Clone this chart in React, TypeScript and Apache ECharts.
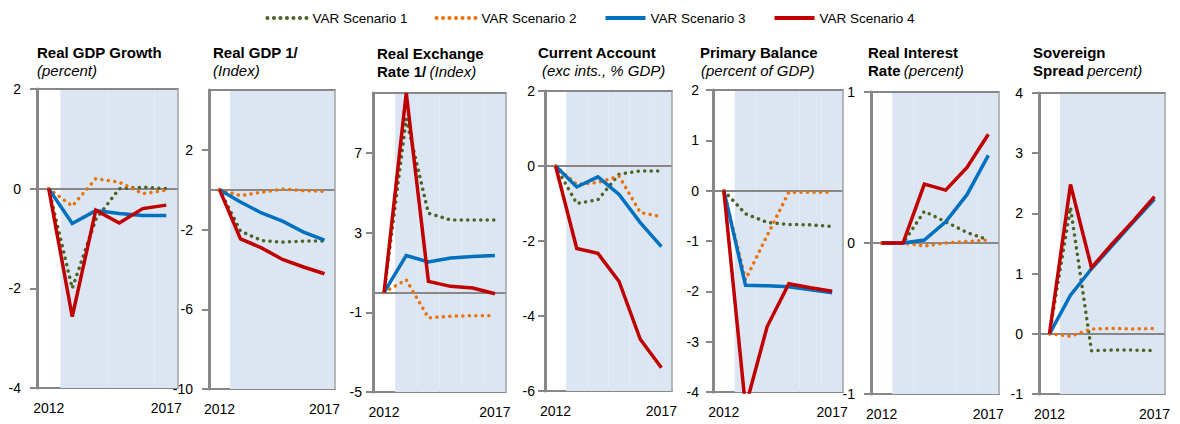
import React, { useEffect, useRef } from "react";
import * as echarts from "echarts";

// ---------- data ----------
const years = ["2012", "2013", "2014", "2015", "2016", "2017"];
const scenarioNames = ["VAR Scenario 1", "VAR Scenario 2", "VAR Scenario 3", "VAR Scenario 4"];

const gdpGrowthS1 = [0, -2.0, -0.62, 0.0, 0.03, 0.0];
const gdpGrowthS2 = [0, -0.35, 0.2, 0.13, -0.1, -0.03];
const gdpGrowthS3 = [0, -0.7, -0.44, -0.5, -0.54, -0.54];
const gdpGrowthS4 = [0, -2.57, -0.43, -0.69, -0.4, -0.33];

const realGdpS1 = [0, -2.08, -2.55, -2.63, -2.58, -2.58];
const realGdpS2 = [0, -0.3, -0.13, 0.03, -0.05, -0.08];
const realGdpS3 = [0, -0.62, -1.17, -1.58, -2.13, -2.53];
const realGdpS4 = [0, -2.47, -2.92, -3.5, -3.88, -4.22];

const rerS1 = [0, 8.7, 3.97, 3.63, 3.63, 3.63];
const rerS2 = [0, 0.63, -1.28, -1.2, -1.17, -1.17];
const rerS3 = [0, 1.85, 1.52, 1.72, 1.8, 1.85];
const rerS4 = [0, 10.0, 0.55, 0.3, 0.22, -0.07];

const currentAccountS1 = [0, -1.0, -0.9, -0.22, -0.13, -0.13];
const currentAccountS2 = [0, -0.49, -0.44, -0.27, -1.24, -1.35];
const currentAccountS3 = [0, -0.56, -0.29, -0.76, -1.51, -2.15];
const currentAccountS4 = [0, -2.2, -2.33, -3.08, -4.62, -5.38];

const primaryBalanceS1 = [0, -0.46, -0.63, -0.67, -0.68, -0.71];
const primaryBalanceS2 = [0, -1.77, -0.89, -0.03, -0.03, -0.03];
const primaryBalanceS3 = [0, -1.88, -1.89, -1.91, -1.97, -2.03];
const primaryBalanceS4 = [0, -4.3, -2.7, -1.85, -1.93, -2.0];

const realInterestS1 = [0, 0, 0.21, 0.14, 0.07, 0.02];
const realInterestS2 = [0, 0, -0.02, 0.0, 0.01, 0.02];
const realInterestS3 = [0, 0, 0.02, 0.14, 0.32, 0.58];
const realInterestS4 = [0, 0, 0.39, 0.35, 0.5, 0.72];

const spreadS1 = [0, 2.1, -0.28, -0.27, -0.27, -0.28];
const spreadS2 = [0, -0.04, 0.08, 0.09, 0.08, 0.09];
const spreadS3 = [0, 0.64, 1.08, 1.47, 1.86, 2.24];
const spreadS4 = [0, 2.48, 1.1, 1.5, 1.88, 2.28];

// y-axis tick values per panel
const gdpGrowthTicks = [-4, -2, 0, 2];
const realGdpTicks = [-10, -6, -2, 2];
const rerTicks = [-5, -1, 3, 7];
const currentAccountTicks = [-6, -4, -2, 0, 2];
const primaryBalanceTicks = [-4, -3, -2, -1, 0, 1, 2];
const realInterestTicks = [-1, 0, 1];
const spreadTicks = [-1, 0, 1, 2, 3, 4];

// ---------- styles / layout ----------
const FONT = '"Liberation Sans", Arial, sans-serif';
const AXIS_GREY = "#878787";
const SHADE = "#dce6f2";
const COLORS = ["#4f6228", "#e8720c", "#0070c0", "#c00000"];

type Panel = {
  data: number[][];
  ticks: number[];
  min: number;
  max: number;
  left: number;
  top: number;
  width: number;
  height: number;
  labelMargin: number;
  title: string;
  subtitle: string;
  titleX: number;
  subX: number;
  titleY: number;
  subY: number;
};

const panels: Panel[] = [
  {
    data: [gdpGrowthS1, gdpGrowthS2, gdpGrowthS3, gdpGrowthS4],
    ticks: gdpGrowthTicks, min: -4, max: 2,
    left: 37, top: 89, width: 141, height: 299, labelMargin: 16,
    title: "{b|Real GDP Growth}", subtitle: "{i|(percent)}",
    titleX: 37, subX: 37, titleY: 52, subY: 70,
  },
  {
    data: [realGdpS1, realGdpS2, realGdpS3, realGdpS4],
    ticks: realGdpTicks, min: -10, max: 5,
    left: 209, top: 90, width: 126, height: 299, labelMargin: 16,
    title: "{b|Real GDP 1/}", subtitle: "{i|(Index)}",
    titleX: 213, subX: 213, titleY: 52, subY: 70,
  },
  {
    data: [rerS1, rerS2, rerS3, rerS4],
    ticks: rerTicks, min: -5, max: 10,
    left: 373, top: 93, width: 133, height: 299, labelMargin: 11,
    title: "{b|Real Exchange}", subtitle: "{b|Rate 1/} {i|(Index)}",
    titleX: 377, subX: 377, titleY: 53, subY: 71,
  },
  {
    data: [currentAccountS1, currentAccountS2, currentAccountS3, currentAccountS4],
    ticks: currentAccountTicks, min: -6, max: 2,
    left: 545, top: 91, width: 127, height: 300, labelMargin: 10,
    title: "{b|Current Account}", subtitle: "{i|(exc ints., % GDP)}",
    titleX: 538, subX: 542, titleY: 52, subY: 70,
  },
  {
    data: [primaryBalanceS1, primaryBalanceS2, primaryBalanceS3, primaryBalanceS4],
    ticks: primaryBalanceTicks, min: -4, max: 2,
    left: 713, top: 90, width: 130, height: 302, labelMargin: 14,
    title: "{b|Primary Balance}", subtitle: "{i|(percent of GDP)}",
    titleX: 700, subX: 701, titleY: 52, subY: 70,
  },
  {
    data: [realInterestS1, realInterestS2, realInterestS3, realInterestS4],
    ticks: realInterestTicks, min: -1, max: 1,
    left: 871, top: 92, width: 128, height: 302, labelMargin: 16,
    title: "{b|Real Interest}", subtitle: "{b|Rate} {i|(percent)}",
    titleX: 868, subX: 868, titleY: 52, subY: 70,
  },
  {
    data: [spreadS1, spreadS2, spreadS3, spreadS4],
    ticks: spreadTicks, min: -1, max: 4,
    left: 1039, top: 93, width: 126, height: 301, labelMargin: 16,
    title: "{b|Sovereign}", subtitle: "{b|Spread} {i|percent)}",
    titleX: 1033, subX: 1033, titleY: 52, subY: 70,
  },
];

const richStyles = {
  b: { fontFamily: FONT, fontSize: 15, fontWeight: "bold", fill: "#000", color: "#000" },
  i: { fontFamily: FONT, fontSize: 15, fontStyle: "italic", fill: "#000", color: "#000" },
};

function buildOption() {
  const grid: any[] = [];
  const xAxis: any[] = [];
  const yAxis: any[] = [];
  const series: any[] = [];
  const graphic: any[] = [];

  panels.forEach((p, i) => {
    grid.push({ left: p.left, top: p.top, width: p.width, height: p.height, containLabel: false });

    // bottom axis: labels + bottom line (mostly hidden by the shading above it)
    xAxis.push({
      type: "category",
      gridIndex: i,
      data: years,
      boundaryGap: true,
      position: "bottom",
      axisLine: { show: true, onZero: false, lineStyle: { color: AXIS_GREY, width: 2 } },
      axisTick: { show: false, interval: 0 },
      axisLabel: {
        interval: 0,
        margin: 13,
        fontSize: 14,
        fontFamily: FONT,
        color: "#000",
        formatter: (v: string, idx: number) => (idx === 0 || idx === years.length - 1 ? v : ""),
      },
      splitLine: { show: false },
      splitArea: { show: false },
      z: 0,
    });
    // top axis: shading bands + top border line
    xAxis.push({
      type: "category",
      gridIndex: i,
      data: years,
      boundaryGap: true,
      position: "top",
      axisLine: { show: true, onZero: false, lineStyle: { color: AXIS_GREY, width: 2 } },
      axisTick: { show: false, interval: 0 },
      axisLabel: { show: false, interval: 0 },
      splitLine: { show: false },
      splitArea: {
        show: true,
        interval: 0,
        areaStyle: { color: ["rgba(255,255,255,0)", SHADE, SHADE, SHADE, SHADE, SHADE] },
      },
      z: 1,
    });

    yAxis.push({
      type: "value",
      gridIndex: i,
      min: p.min,
      max: p.max,
      position: "left",
      axisLine: { show: true, onZero: false, lineStyle: { color: AXIS_GREY, width: 3 } },
      axisTick: { show: true, length: 7, customValues: p.ticks, lineStyle: { color: AXIS_GREY, width: 2 } },
      axisLabel: {
        customValues: p.ticks,
        margin: p.labelMargin,
        fontSize: 14,
        fontFamily: FONT,
        color: "#000",
      },
      splitLine: { show: false },
      z: 6,
    });
    yAxis.push({
      type: "value",
      gridIndex: i,
      min: p.min,
      max: p.max,
      position: "right",
      axisLine: { show: true, onZero: false, lineStyle: { color: "#a3a3a3", width: 1.5 } },
      axisTick: { show: false },
      axisLabel: { show: false },
      splitLine: { show: false },
      z: 6,
    });

    p.data.forEach((values, s) => {
      const dotted = s < 2;
      const ser: any = {
        type: "line",
        name: scenarioNames[s],
        xAxisIndex: 2 * i,
        yAxisIndex: 2 * i,
        data: values,
        symbol: "none",
        showSymbol: false,
        color: COLORS[s],
        lineStyle: dotted
          ? { color: COLORS[s], width: 3.5, type: [0.1, 6.4], cap: "round" }
          : { color: COLORS[s], width: 3.5, cap: "butt", join: "miter" },
        z: 3 + s,
        silent: true,
      };
      if (s === 0) {
        ser.markLine = {
          silent: true,
          symbol: ["none", "none"],
          label: { show: false },
          z: 2,
          lineStyle: { color: AXIS_GREY, width: 2, type: "solid" },
          data: [{ yAxis: 0 }],
          animation: false,
        };
      }
      series.push(ser);
    });

    graphic.push({
      type: "text",
      x: p.titleX,
      y: p.titleY,
      style: { text: p.title, rich: richStyles, verticalAlign: "middle", align: "left", fill: "#000" },
    });
    graphic.push({
      type: "text",
      x: p.subX,
      y: p.subY,
      style: { text: p.subtitle, rich: richStyles, verticalAlign: "middle", align: "left", fill: "#000" },
    });
  });

  return {
    animation: false,
    backgroundColor: "#ffffff",
    legend: {
      top: 6,
      left: "center",
      itemWidth: 40,
      itemHeight: 12,
      itemGap: 27,
      data: scenarioNames,
      itemStyle: { opacity: 0 },
      lineStyle: { width: 4 },
      textStyle: { fontFamily: FONT, fontSize: 13.5, color: "#000" },
      selectedMode: false,
    },
    grid,
    xAxis,
    yAxis,
    series,
    graphic,
  };
}

export default function App() {
  const ref = useRef<HTMLDivElement>(null);
  useEffect(() => {
    if (!ref.current) return;
    const chart = echarts.init(ref.current, undefined, { renderer: "svg" });
    chart.setOption(buildOption() as any);
    return () => chart.dispose();
  }, []);
  return (
    <div
      ref={ref}
      style={{ position: "fixed", left: 0, top: 0, width: 1180, height: 424, background: "#fff" }}
    />
  );
}
